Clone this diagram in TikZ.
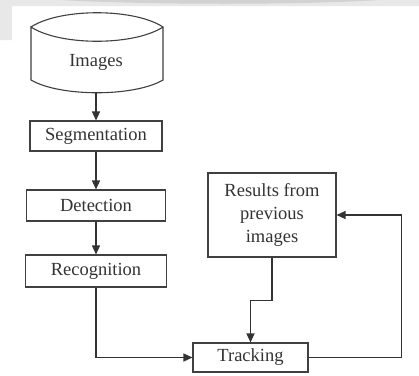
\documentclass[tikz,border=0pt]{standalone}
\usepackage{fontspec}
\setmainfont{Liberation Serif}
\usetikzlibrary{arrows.meta}
\begin{document}
\begin{tikzpicture}[x=1pt,y=-1pt,
  ln/.style={draw=black!80,line width=1.3pt},
  arr/.style={ln,-{Triangle[width=8pt,length=9pt]}},
  box/.style={draw=black!75,line width=1.1pt,minimum width=#1,inner sep=0pt,font=\fontsize{18.5}{20}\selectfont,text=black!80},
  lbl/.style={font=\fontsize{18.5}{20}\selectfont,text=black!80,inner sep=0pt}]
\useasboundingbox (0,0) rectangle (419,375);
\fill[white] (0,0) rectangle (419,375);
% faint gray band at the top
\fill[gray!18] (0,0) -- (419,0) -- (419,6) -- (12,6) -- (12,40) -- (0,40) -- cycle;
\fill[gray!35] (60,0) .. controls (150,5) and (300,5) .. (380,0) -- cycle;
% cylinder "Images"
\draw[draw=black!75,line width=1.1pt] (31,27) .. controls (60,8) and (134,8) .. (163,27)
  .. controls (134,46) and (60,46) .. (31,27) -- (31,80)
  .. controls (60,97) and (134,97) .. (163,80) -- (163,27);
\node[minimum width=132pt,minimum height=79pt,inner sep=0pt] (img) at (96,52.5) {};
\node[lbl] (imgtxt) at (96,62) {Images};
% boxes
\node[box=132pt,minimum height=30pt] (seg) at (96,136) {Segmentation};
\node[box=139pt,minimum height=31pt] (det) at (96,205.5) {Detection};
\node[box=141pt,minimum height=32pt] (rec) at (96,271) {Recognition};
\node[box=128pt,minimum height=84pt,align=center,font=\fontsize{18.5}{23}\selectfont] (res) at (272,215) {Results from\\previous\\images};
\node[box=115pt,minimum height=29pt] (trk) at (250.5,357.5) {Tracking};
% connectors
\draw[arr] (img.south) -- (seg.north);
\draw[arr] (seg.south) -- (det.north);
\draw[arr] (det.south) -- (rec.north);
\draw[arr] (rec.south) |- (trk.west);
\draw[arr] (res.south) -- ++(0,43) -| (trk.north);
\draw[arr] (trk.east) -- ++(93,0) |- (res.east);
\end{tikzpicture}
\end{document}
